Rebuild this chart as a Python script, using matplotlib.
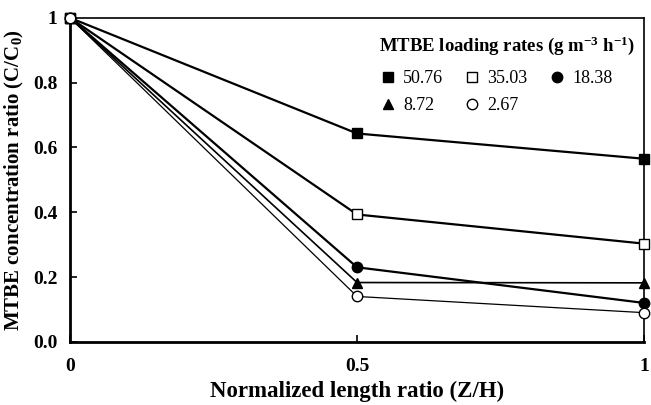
import matplotlib.pyplot as plt
from matplotlib.ticker import FixedLocator, FixedFormatter

plt.rcParams['font.family'] = ['Liberation Serif', 'DejaVu Serif']

# data
z_ratio = [0, 0.5, 1]
rates = ['50.76', '35.03', '18.38', '8.72', '2.67']
c_5076 = [1.0, 0.643, 0.565]
c_3503 = [1.0, 0.393, 0.303]
c_1838 = [1.0, 0.230, 0.120]
c_872 = [1.0, 0.183, 0.182]
c_267 = [1.0, 0.140, 0.090]

series = [c_5076, c_3503, c_1838, c_872, c_267]
markers = ['s', 's', 'o', '^', 'o']
faces = ['black', 'white', 'black', 'black', 'white']
widths = [1.6, 1.6, 1.6, 1.2, 0.9]

fig = plt.figure(figsize=(6.51, 4.05), dpi=100)
ax = fig.add_axes([0.1075, 0.156, 0.882, 0.800])

handles = []
for vals, lab, m, fc, lw in zip(series, rates, markers, faces, widths):
    h, = ax.plot(z_ratio, vals, color='black', lw=lw, marker=m, markersize=7.5,
                 markerfacecolor=fc, markeredgecolor='black', markeredgewidth=1.0,
                 label=lab, clip_on=False, zorder=3)
    handles.append(h)

ax.set_xlim(0, 1)
ax.set_ylim(0, 1)
ax.xaxis.set_major_locator(FixedLocator([0, 0.5, 1]))
ax.xaxis.set_major_formatter(FixedFormatter(['0', '0.5', '1']))
ax.yaxis.set_major_locator(FixedLocator([0, 0.2, 0.4, 0.6, 0.8, 1.0]))
ax.yaxis.set_major_formatter(FixedFormatter(['0.0', '0.2', '0.4', '0.6', '0.8', '1']))
ax.tick_params(direction='in', length=5, width=1.2, labelsize=14)
ax.tick_params(axis='x', pad=12)
ax.tick_params(axis='y', pad=9)
for t in ax.get_xticklabels() + ax.get_yticklabels():
    t.set_fontweight('bold')
for s in ax.spines.values():
    s.set_linewidth(1.2)
ax.spines['left'].set_linewidth(2)
ax.spines['bottom'].set_linewidth(2)

ax.set_xlabel('Normalized length ratio (Z/H)', fontsize=16.5, fontweight='bold', labelpad=4)
ax.set_ylabel('MTBE concentration ratio (C/C$\\mathregular{_0}$)', fontsize=15,
              fontweight='bold', labelpad=5)

order = [0, 3, 1, 4, 2]
leg = ax.legend([handles[i] for i in order], [rates[i] for i in order], ncol=3,
                loc='upper right', bbox_to_anchor=(1.012, 1.0), frameon=False,
                fontsize=13, handlelength=1.0, handletextpad=0.35, columnspacing=1.1,
                labelspacing=0.55,
                title='MTBE loading rates (g m$\\mathregular{^{-3}}$ h$\\mathregular{^{-1}}$)',
                title_fontproperties={'weight': 'bold', 'size': 13.5})
for lh in leg.legend_handles:
    lh.set_linestyle('')
leg._legend_box.align = 'left'
leg._legend_box.sep = 10

fig.savefig('out.png', dpi=100)
